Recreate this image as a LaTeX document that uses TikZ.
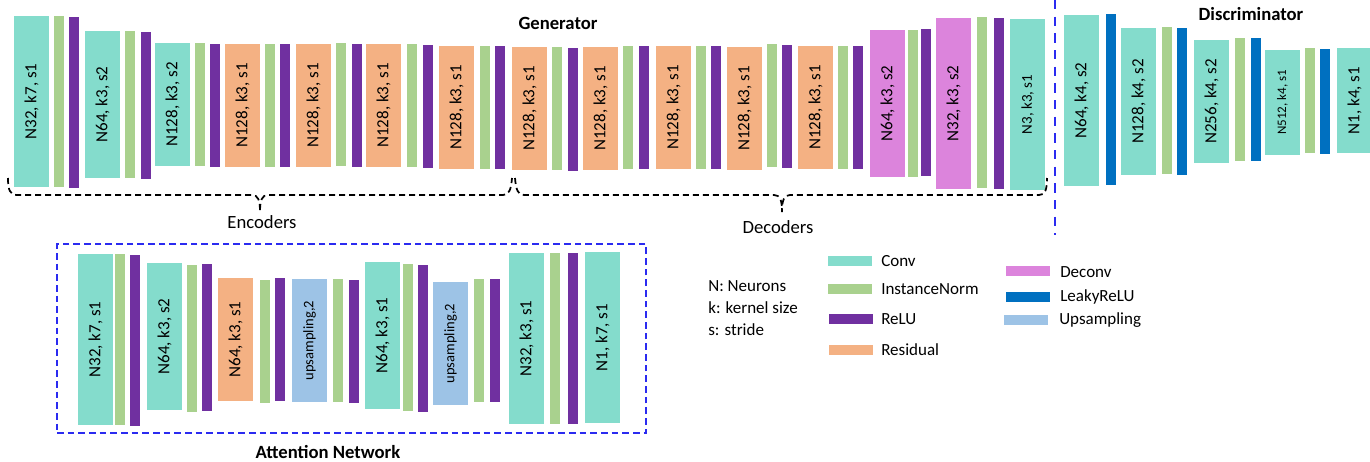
\documentclass[tikz,border=0pt]{standalone}
\usepackage{fontspec}
\setmainfont{Carlito}
\definecolor{convc}{HTML}{84DCCC}
\definecolor{normc}{HTML}{A9D18E}
\definecolor{reluc}{HTML}{7030A0}
\definecolor{resc}{HTML}{F4B183}
\definecolor{deconvc}{HTML}{DC84DC}
\definecolor{leakyc}{HTML}{0070C0}
\definecolor{upc}{HTML}{9DC3E6}
\definecolor{sepc}{HTML}{2B2BF0}
\newcommand{\Lay}[7]{%
  \node[layer,#1,minimum width={(#6-#5)*0.75pt},minimum height={(#4-#3)*0.75pt}] (#2) at ({(#3+#4)/2},{(#5+#6)/2}) {#7};}
\tikzset{
  layer/.style={rotate=90,inner sep=0pt,outer sep=0pt,draw=none,text=black,font=\fontsize{12.75}{14}\selectfont},
  conv/.style={fill=convc},
  norm/.style={fill=normc},
  relu/.style={fill=reluc},
  res/.style={fill=resc},
  deconv/.style={fill=deconvc},
  leaky/.style={fill=leakyc},
  upl/.style={fill=upc},
  smallA/.style={font=\fontsize{11.25}{13}\selectfont},
  smallB/.style={font=\fontsize{9.75}{12}\selectfont},
  smallC/.style={font=\fontsize{10.9}{13}\selectfont},
  titletext/.style={font=\bfseries\fontsize{14}{16}\selectfont,inner sep=0pt},
  parttext/.style={font=\fontsize{14}{16}\selectfont,inner sep=0pt},
  legbox/.style={minimum width=33pt,minimum height=7.5pt,inner sep=0pt,draw=none},
  legtext/.style={anchor=west,inner sep=0pt,font=\fontsize{12.75}{14}\selectfont},
  bracestyle/.style={black,line width=1.3pt,dash pattern=on 4.5pt off 3pt},
  sepline/.style={sepc,line width=2.2pt,dash pattern=on 7pt off 5.5pt},
  attbox/.style={sepc,line width=1.5pt,dash pattern=on 5pt off 3pt}
}
\begin{document}
\begin{tikzpicture}[x=0.75pt,y=-0.75pt]
\useasboundingbox (0,0) rectangle (1370,461);
% ---------------- Generator ----------------
\Lay{conv}{g1}{14}{49}{16}{187}{N32, k7, s1}
\Lay{norm}{g2}{54}{64}{16}{187}{}
\Lay{relu}{g3}{69}{79}{17}{188}{}
\Lay{conv}{g4}{85}{120}{31}{178}{N64, k3, s2}
\Lay{norm}{g5}{125}{135}{31}{178}{}
\Lay{relu}{g6}{141}{151}{32}{179}{}
\Lay{conv}{g7}{155}{190}{43}{166}{N128, k3, s2}
\Lay{norm}{g8}{195}{205}{43}{166}{}
\Lay{relu}{g9}{210}{220}{44}{167}{}
\Lay{res}{g10}{225}{260}{44}{167}{N128, k3, s1}
\Lay{norm}{g11}{265}{275}{44}{167}{}
\Lay{relu}{g12}{280}{290}{44}{167}{}
\Lay{res}{g13}{296}{331}{44}{167}{N128, k3, s1}
\Lay{norm}{g14}{336}{346}{43}{166}{}
\Lay{relu}{g15}{352}{362}{44}{167}{}
\Lay{res}{g16}{366}{401}{44}{167}{N128, k3, s1}
\Lay{norm}{g17}{407}{417}{44}{167}{}
\Lay{relu}{g18}{423}{433}{45}{168}{}
\Lay{res}{g19}{439}{474}{46}{169}{N128, k3, s1}
\Lay{norm}{g20}{480}{490}{46}{169}{}
\Lay{relu}{g21}{495}{505}{46}{169}{}
\Lay{res}{g22}{512}{547}{47}{170}{N128, k3, s1}
\Lay{norm}{g23}{552}{562}{47}{170}{}
\Lay{relu}{g24}{568}{578}{48}{171}{}
\Lay{res}{g25}{583}{618}{47}{170}{N128, k3, s1}
\Lay{norm}{g26}{623}{633}{46}{169}{}
\Lay{relu}{g27}{639}{649}{46}{169}{}
\Lay{res}{g28}{656}{691}{46}{169}{N128, k3, s1}
\Lay{norm}{g29}{696}{706}{46}{169}{}
\Lay{relu}{g30}{711}{721}{46}{169}{}
\Lay{res}{g31}{727}{762}{47}{170}{N128, k3, s1}
\Lay{norm}{g32}{767}{777}{44}{167}{}
\Lay{relu}{g33}{782}{792}{45}{168}{}
\Lay{res}{g34}{798}{833}{46}{169}{N128, k3, s1}
\Lay{norm}{g35}{838}{848}{46}{169}{}
\Lay{relu}{g36}{853}{863}{46}{169}{}
\Lay{deconv}{g37}{870}{905}{30}{177}{N64, k3, s2}
\Lay{norm}{g38}{908}{918}{30}{177}{}
\Lay{relu}{g39}{921}{931}{29}{176}{}
\Lay{deconv}{g40}{936}{971}{18}{189}{N32, k3, s2}
\Lay{norm}{g41}{977}{987}{17}{188}{}
\Lay{relu}{g42}{994}{1004}{18}{189}{}
\Lay{conv,smallA}{g43}{1010}{1045}{19}{190}{N3, k3, s1}
\node[titletext] (gen) at (558,23) {Generator};
% braces
\draw[bracestyle] (8,178) .. controls (8,190) and (10,195) .. (17,195) -- (252,195)
  .. controls (258,195) and (260,200) .. (260,212)
  .. controls (260,200) and (262,195) .. (268,195) -- (503,195)
  .. controls (509,195) and (511,190) .. (512,178);
\draw[bracestyle] (515,178) .. controls (516,190) and (518,195) .. (524,195) -- (774,195)
  .. controls (780,195) and (782,200) .. (782,212)
  .. controls (782,200) and (784,195) .. (790,195) -- (1039,195)
  .. controls (1045,195) and (1047,190) .. (1047,178);
\node[parttext] (enc) at (262,222) {Encoders};
\node[parttext] (dec) at (778,227) {Decoders};
% separator
\coordinate (septop) at (1055,0);
\coordinate (sepbot) at (1055,235);
\draw[sepline] (septop) -- (sepbot);
% ---------------- Discriminator ----------------
\Lay{conv}{d1}{1064}{1099}{15}{186}{N64, k4, s2}
\Lay{leaky}{d2}{1106}{1116}{14}{185}{}
\Lay{conv}{d3}{1121}{1156}{28}{175}{N128, k4, s2}
\Lay{norm}{d4}{1162}{1172}{27}{174}{}
\Lay{leaky}{d5}{1177}{1187}{28}{175}{}
\Lay{conv}{d6}{1194}{1229}{40}{163}{N256, k4, s2}
\Lay{norm}{d7}{1235}{1245}{38}{161}{}
\Lay{leaky}{d8}{1251}{1261}{38}{161}{}
\Lay{conv,smallB}{d9}{1265}{1300}{50}{155}{N512, k4, s1}
\Lay{norm}{d10}{1305}{1315}{48}{153}{}
\Lay{leaky}{d11}{1320}{1330}{49}{154}{}
\Lay{conv}{d12}{1337}{1372}{48}{153}{N1, k4, s1}
\node[titletext] (disc) at (1251,14) {Discriminator};
% ---------------- Attention network ----------------
\node[attbox,draw,fill=none,minimum width={589*0.75pt},minimum height={189*0.75pt},inner sep=0pt] (abox) at (351.5,338.5) {};
\Lay{conv}{a1}{78}{113}{254}{425}{N32, k7, s1}
\Lay{norm}{a2}{115}{125}{254}{425}{}
\Lay{relu}{a3}{130}{140}{255}{426}{}
\Lay{conv}{a4}{147}{182}{263}{410}{N64, k3, s2}
\Lay{norm}{a5}{187}{197}{265}{412}{}
\Lay{relu}{a6}{202}{212}{264}{411}{}
\Lay{res}{a7}{218}{253}{278}{401}{N64, k3, s1}
\Lay{norm}{a8}{260}{270}{280}{403}{}
\Lay{relu}{a9}{275}{285}{278}{401}{}
\Lay{upl,smallC}{a10}{292}{327}{279}{402}{upsampling,2}
\Lay{norm}{a11}{333}{343}{279}{402}{}
\Lay{relu}{a12}{349}{359}{280}{403}{}
\Lay{conv}{a13}{365}{400}{262}{409}{N64, k3, s1}
\Lay{norm}{a14}{403}{413}{264}{411}{}
\Lay{relu}{a15}{418}{428}{265}{412}{}
\Lay{upl,smallC}{a16}{433}{468}{282}{405}{upsampling,2}
\Lay{norm}{a17}{474}{484}{279}{402}{}
\Lay{relu}{a18}{490}{500}{279}{402}{}
\Lay{conv}{a19}{509}{544}{253}{424}{N32, k3, s1}
\Lay{norm}{a20}{550}{560}{253}{424}{}
\Lay{relu}{a21}{568}{578}{253}{424}{}
\Lay{conv}{a22}{585}{620}{252}{423}{N1, k7, s1}
\node[titletext] (att) at (328,452) {Attention Network};
% ---------------- Legend ----------------
\node[legtext] (n1) at (708,286) {N: Neurons};
\node[legtext] (n2) at (708,308) {k: kernel size};
\node[legtext] (n3) at (708,330) {s: stride};
\node[legbox,fill=convc] (lconv) at (850,261) {};
\node[legtext] (tconv) at (881,261) {Conv};
\node[legbox,fill=normc] (lnorm) at (850,289) {};
\node[legtext] (tnorm) at (881,289) {InstanceNorm};
\node[legbox,fill=reluc] (lrelu) at (851,319) {};
\node[legtext] (trelu) at (881,319) {ReLU};
\node[legbox,fill=resc] (lres) at (851,350) {};
\node[legtext] (tres) at (881,350) {Residual};
\node[legbox,fill=deconvc] (ldec) at (1028,271) {};
\node[legtext] (tdec) at (1060,272) {Deconv};
\node[legbox,fill=leakyc] (lleak) at (1028,297) {};
\node[legtext] (tleak) at (1060,297) {LeakyReLU};
\node[legbox,fill=upc] (lup) at (1026,320) {};
\node[legtext] (tup) at (1059,320) {Upsampling};
\end{tikzpicture}
\end{document}
